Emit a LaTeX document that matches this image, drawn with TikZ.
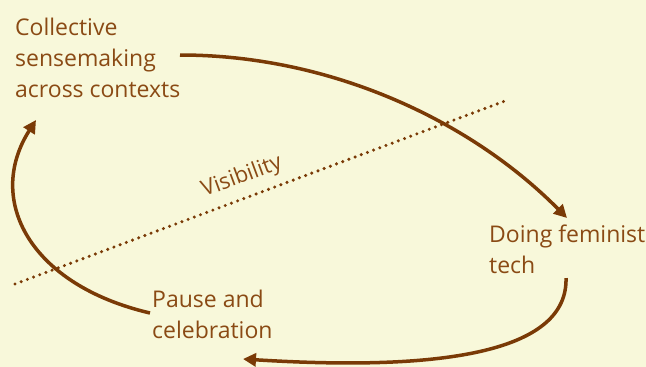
\documentclass[tikz,border=0pt]{standalone}
\usepackage{fontspec}
\setmainfont{Open Sans}
\usetikzlibrary{arrows.meta}
\definecolor{paper}{HTML}{F8F8DA}
\definecolor{ink}{HTML}{8A4A14}
\definecolor{flow}{HTML}{7A3A06}
\begin{document}
\begin{tikzpicture}[x=1pt,y=-1pt,
  label/.style={font=\fontsize{23}{31}\selectfont, text=ink, align=left, inner sep=0pt, anchor=base west},
  cycle/.style={draw=flow, line width=3.5pt, -{Triangle[length=13pt,width=13pt]}},
  border/.style={draw=flow, line width=3.4pt, line cap=round, dash pattern=on 0pt off 6.6pt}]
  \fill[paper] (0,0) rectangle (646,367);
  \useasboundingbox (0,0) rectangle (646,367);

  % stages of the cycle (placed by the baseline of their last line)
  \node[label] (collective) at (15,97) {Collective\\sensemaking\\across contexts};
  \node[label] (doing) at (489,273) {Doing feminist\\tech};
  \node[label] (pause) at (152,338) {Pause and\\celebration};

  % arrow end points beside the labels
  \coordinate (c-out) at (180,55);
  \coordinate (d-in) at (567,218);
  \coordinate (d-out) at (566,278);
  \coordinate (p-in) at (243,359);
  \coordinate (p-out) at (150,313);
  \coordinate (c-in) at (36,120);

  % the visibility threshold
  \coordinate (v-a) at (15,284);
  \coordinate (v-b) at (505,101);
  \draw[border] (v-a) -- (v-b);
  \node[font=\fontsize{22}{26}\selectfont, text=ink, rotate=20.4, inner sep=0pt] (visibility) at (242,177) {Visibility};

  % cycle arrows
  \draw[cycle] (c-out) .. controls (330,55) and (470,120) .. (d-in);
  \draw[cycle] (d-out) .. controls (568,350) and (450,372) .. (p-in);
  \draw[cycle] (p-out) .. controls (30,285) and (-15,200) .. (c-in);
\end{tikzpicture}
\end{document}
